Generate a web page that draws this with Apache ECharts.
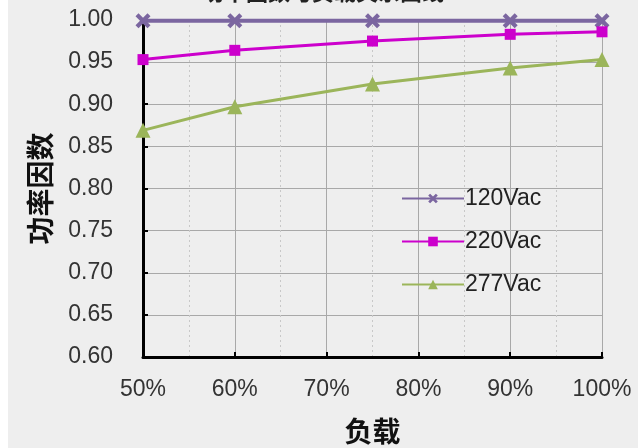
<!DOCTYPE html>
<html><head><meta charset="utf-8">
<script src="https://cdn.jsdelivr.net/npm/echarts@6/dist/echarts.min.js"></script>
<style>html,body{margin:0;padding:0;background:#fff;}#c{position:absolute;left:8px;top:0;width:630px;height:448px;}</style>
</head><body><div id="c"></div>
<script>
const loads = [50, 60, 75, 90, 100];
const pf120 = [0.999, 0.999, 0.999, 0.999, 0.999];
const pf220 = [0.953, 0.964, 0.975, 0.983, 0.986];
const pf277 = [0.869, 0.897, 0.924, 0.943, 0.953];
const seriesNames = ['120Vac', '220Vac', '277Vac'];
const xName = '负载';
const yName = '功率因数';
const titleText = '功率因数与负载关系曲线';

const pair = (ys) => loads.map((x, i) => [x, ys[i]]);
const xMark = 'path://M0,2L2,0L5,3L8,0L10,2L7,5L10,8L8,10L5,7L2,10L0,8L3,5Z';
const chart = echarts.init(document.getElementById('c'));
chart.setOption({
  backgroundColor: '#eeeeee',
  animation: false,
  title: {text: titleText, left: 'center', top: -24, textStyle: {fontFamily: 'Noto Sans CJK SC', fontSize: 22, fontWeight: 'bold', color: '#222'}},
  grid: {left: 135, right: 36, top: 20, bottom: 91, containLabel: false, outerBoundsMode: 'none'},
  legend: {
    orient: 'vertical', left: 388, top: 182, itemWidth: 62, itemHeight: 12, itemGap: 20,
    textStyle: {fontFamily: 'Liberation Sans', fontSize: 23, color: '#222', padding: [0,0,0,-4]},
    data: seriesNames
  },
  xAxis: {
    type: 'value', min: 50, max: 100, interval: 10,
    name: xName, nameLocation: 'middle', nameGap: 60,
    nameTextStyle: {fontFamily: 'Noto Sans CJK SC', fontSize: 28, fontWeight: 'bold', color: '#111'},
    axisLine: {lineStyle: {color: '#000', width: 3}},
    axisTick: {inside: true, length: 5, lineStyle: {color: '#000', width: 2}},
    axisLabel: {formatter: '{value}%', fontFamily: 'Liberation Sans', fontSize: 23, color: '#333', margin: 21},
    splitLine: {show: true, lineStyle: {color: '#a8a8a8', width: 1}},
    minorTick: {show: false, splitNumber: 2},
    minorSplitLine: {show: true, lineStyle: {color: '#c8c8c8', width: 1, type: [2, 3]}}
  },
  yAxis: {
    type: 'value', min: 0.6, max: 1.0, interval: 0.05,
    name: yName, nameLocation: 'middle', nameGap: 89, nameRotate: 90,
    nameTextStyle: {fontFamily: 'Noto Sans CJK SC', fontSize: 28, fontWeight: 'bold', color: '#111'},
    axisLine: {show: true, lineStyle: {color: '#000', width: 3}},
    axisTick: {show: true, inside: true, length: 5, lineStyle: {color: '#000', width: 2}},
    axisLabel: {formatter: v => v.toFixed(2), fontFamily: 'Liberation Sans', fontSize: 23, color: '#333', margin: 30},
    splitLine: {show: true, lineStyle: {color: '#a8a8a8', width: 1}}
  },
  series: [
    {name: seriesNames[0], type: 'line', data: pair(pf120), symbol: xMark, symbolSize: 15,
     lineStyle: {color: '#7b66a0', width: 4}, itemStyle: {color: '#7b66a0'}},
    {name: seriesNames[1], type: 'line', data: pair(pf220), symbol: 'rect', symbolSize: 11,
     lineStyle: {color: '#cc00cc', width: 3}, itemStyle: {color: '#cc00cc'}},
    {name: seriesNames[2], type: 'line', data: pair(pf277), symbol: 'triangle', symbolSize: 15,
     lineStyle: {color: '#9bb55a', width: 3}, itemStyle: {color: '#9bb55a'}}
  ]
});
</script></body></html>
